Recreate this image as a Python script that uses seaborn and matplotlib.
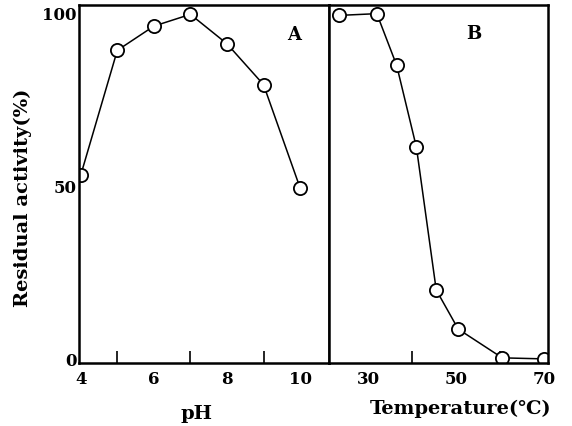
import matplotlib
matplotlib.use("Agg")
import matplotlib.pyplot as plt
import seaborn as sns
import pandas as pd

# Panel A: pH stability
ph_values = [4, 5, 6, 7, 8, 9, 10]
ph_activity = [53.4, 89.4, 96.4, 99.8, 91.3, 79.5, 49.7]

# Panel B: thermal stability
temp_values = [23.5, 32, 36.5, 41, 45.5, 50.5, 60.5, 70]
temp_activity = [99.5, 100, 85.1, 61.4, 20.2, 8.9, 0.6, 0.3]

ph_ticks = [4, 6, 8, 10]
ph_minor = [5, 7, 9]
temp_ticks = [30, 50, 70]
temp_minor = [40, 60]
y_ticks = [0, 50, 100]

sns.set_theme(style="white")
plt.rcParams['font.family'] = ['DejaVu Serif', 'DejaVu Sans']
plt.rcParams['font.weight'] = 'bold'
plt.rcParams['text.color'] = 'black'
plt.rcParams['axes.labelcolor'] = 'black'
plt.rcParams['xtick.color'] = 'black'
plt.rcParams['ytick.color'] = 'black'

W, H = 572, 426
fig = plt.figure(figsize=(W / 100, H / 100), dpi=100)
left_x0, mid_x, right_x1 = 79.3, 329.3, 548.0
top_y, bot_y = 5.0, 362.7
axA = fig.add_axes([left_x0 / W, (H - bot_y) / H, (mid_x - left_x0) / W, (bot_y - top_y) / H])
axB = fig.add_axes([mid_x / W, (H - bot_y) / H, (right_x1 - mid_x) / W, (bot_y - top_y) / H])

dfA = pd.DataFrame({"pH": ph_values, "act": ph_activity})
dfB = pd.DataFrame({"T": temp_values, "act": temp_activity})

mk = dict(marker='o', markersize=9.5, markerfacecolor='white', markeredgecolor='black',
          markeredgewidth=1.3, color='black', linewidth=1.1)
sns.lineplot(data=dfA, x="pH", y="act", ax=axA, sort=False, **mk)
sns.lineplot(data=dfB, x="T", y="act", ax=axB, sort=False, **mk)

for ax in (axA, axB):
    for s in ax.spines.values():
        s.set_color('black')
        s.set_linewidth(1.8)
        s.set_visible(True)
    ax.set_ylim(-0.8, 102.5)
    ax.tick_params(axis='both', which='both', direction='in', colors='black',
                   labelcolor='black', width=1.2, labelsize=12)
    ax.tick_params(axis='x', which='both', length=9, pad=6)
    ax.tick_params(axis='y', which='major', length=11, pad=2)

axA.set_xlim(3.96, 10.80)
axA.set_xticks(ph_ticks)
axA.set_xticks(ph_minor, minor=True)
axA.set_yticks(y_ticks)
axA.set_xticklabels([str(v) for v in ph_ticks], fontweight='bold', color='black')
axA.set_yticklabels([str(v) for v in y_ticks], fontweight='bold', color='black')
axA.tick_params(axis='x', which='minor', length=9, width=1.2, direction='in', bottom=True)
axA.set_xlabel("pH", fontsize=14, fontweight='bold', color='black')
axA.xaxis.set_label_coords(0.47, -0.118)
axA.set_ylabel("Residual activity(%)", fontsize=14, fontweight='bold', color='black')
axA.yaxis.set_label_coords(-0.19, 0.46)
axA.text(0.86, 0.915, "A", transform=axA.transAxes, fontsize=13, fontweight='bold',
         ha='center', va='center', color='black')

axB.set_xlim(21.2, 70.9)
axB.set_xticks(temp_ticks)
axB.set_xticks(temp_minor, minor=True)
axB.set_yticks([50])
axB.set_yticklabels([])
axB.set_xticklabels([str(v) for v in temp_ticks], fontweight='bold', color='black')
axB.tick_params(axis='x', which='minor', length=9, width=1.2, direction='in', bottom=True)
axB.set_xlabel("Temperature(℃)", fontsize=14, fontweight='bold', color='black')
axB.xaxis.set_label_coords(0.60, -0.104)
axB.set_ylabel("")
axB.text(0.66, 0.92, "B", transform=axB.transAxes, fontsize=13, fontweight='bold',
         ha='center', va='center', color='black')

fig.savefig("out.png", dpi=100, facecolor='white')
